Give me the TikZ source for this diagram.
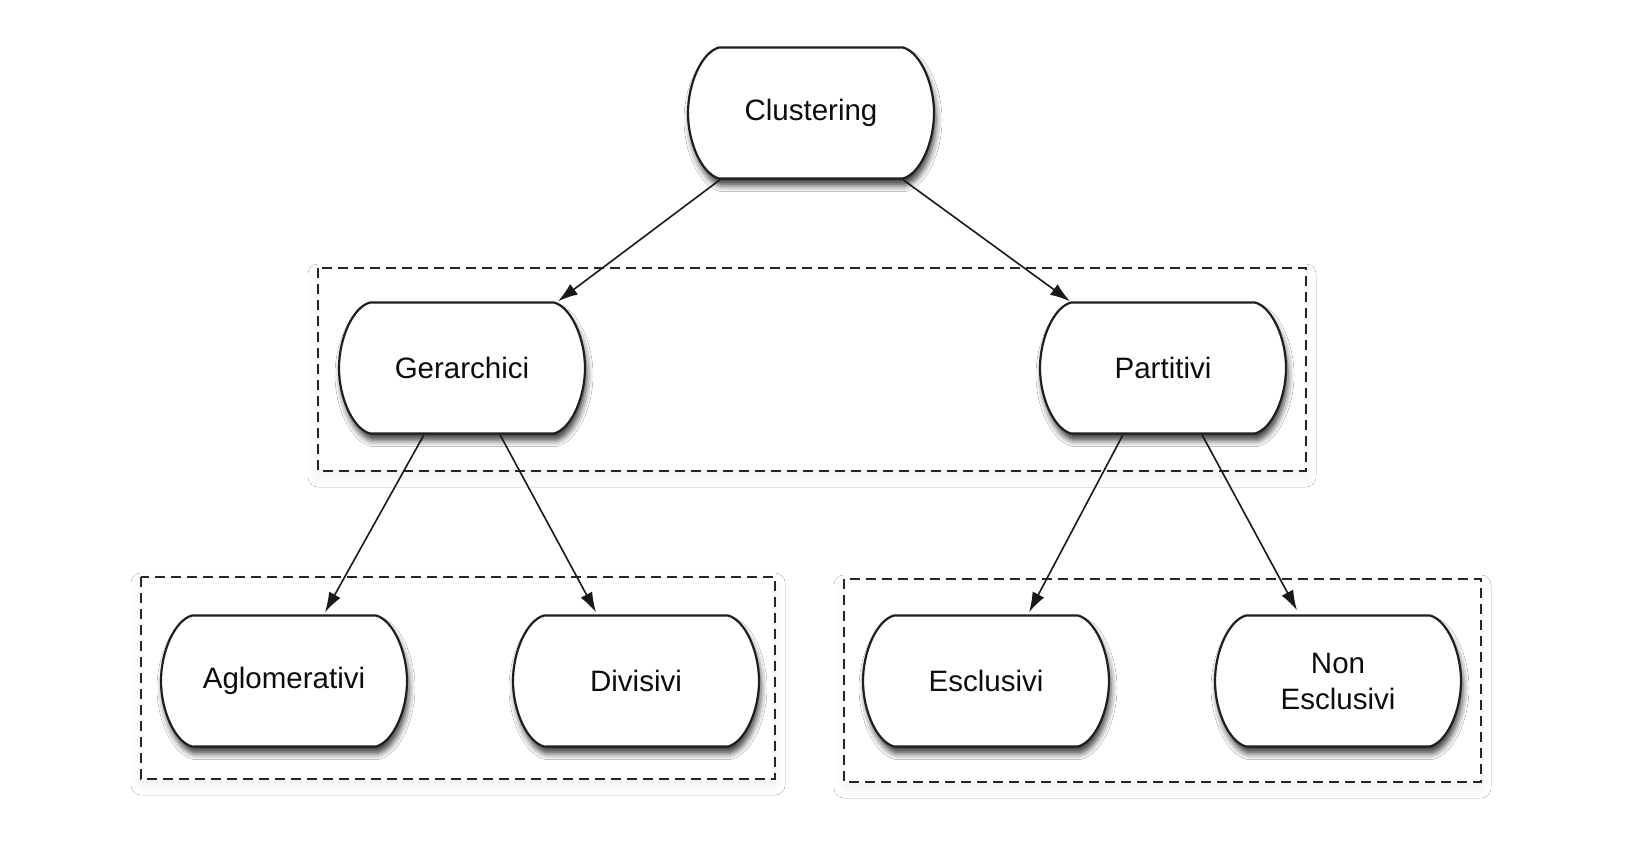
\documentclass[tikz,border=0pt]{standalone}
\usepackage{fontspec}
\setmainfont{Liberation Sans}
\usetikzlibrary{shadows.blur,arrows.meta,calc}
% outline of a pill shape centred on coordinate #1 (half width 123, half height 65.5)
\newcommand\pilloutline[1]{%
  \draw[pillline] ($(#1)+(-92,-65.5)$) -- ($(#1)+(92,-65.5)$)
    .. controls ($(#1)+(109,-61)$) and ($(#1)+(123,-30)$) .. ($(#1)+(123,0)$)
    .. controls ($(#1)+(123,30)$) and ($(#1)+(109,61)$) .. ($(#1)+(92,65.5)$)
    -- ($(#1)+(-92,65.5)$)
    .. controls ($(#1)+(-109,61)$) and ($(#1)+(-123,30)$) .. ($(#1)+(-123,0)$)
    .. controls ($(#1)+(-123,-30)$) and ($(#1)+(-109,-61)$) .. cycle;}
\begin{document}
\begin{tikzpicture}[x=1pt,y=-1pt,
  blk/.style={rectangle, draw=none, minimum width=246pt, minimum height=131pt,
    font=\fontsize{29.5}{36}\selectfont, text=black!95, align=center, inner sep=0pt},
  pillline/.style={draw=black!88, line width=2.2pt, fill=white,
    blur shadow={shadow xshift=2pt, shadow yshift=-7pt, shadow blur radius=6pt, shadow opacity=75}},
  grp/.style={draw=black!85, line width=1.8pt, dash pattern=on 10pt off 6pt, fill=white,
    blur shadow={shadow xshift=0pt, shadow yshift=-6pt, shadow blur radius=10pt, shadow opacity=6}},
  arr/.style={line width=1.6pt, draw=black!90, -{Latex[length=20pt,width=13pt]}}]
\useasboundingbox[fill=white] (0,0) rectangle (1652,841);
% group boxes
\draw[grp] (318,268) rectangle (1306,471);
\draw[grp] (141,577) rectangle (775,779);
\draw[grp] (844,579) rectangle (1481,782);
% centres
\coordinate (cluc) at (811,113);
\coordinate (gerc) at (462,368);
\coordinate (parc) at (1163,368);
\coordinate (aglc) at (284,681);
\coordinate (divc) at (636,681);
\coordinate (escc) at (986,681);
\coordinate (nesc) at (1338,681);
% outlines
\pilloutline{cluc}
\pilloutline{gerc}
\pilloutline{parc}
\pilloutline{aglc}
\pilloutline{divc}
\pilloutline{escc}
\pilloutline{nesc}
% nodes
\node[blk] (clu) at (cluc) {Clustering};
\node[blk] (ger) at (gerc) {Gerarchici};
\node[blk] (par) at (parc) {Partitivi};
\node[blk] (agl) at (aglc) {Aglomerativi};
\node[blk] (div) at (divc) {Divisivi};
\node[blk] (esc) at (escc) {Esclusivi};
\node[blk] (nes) at (nesc) {Non\\Esclusivi};
% connectors
\draw[arr] ($(clu.south)+(-91,1)$) -- ($(ger.north)+(96,-1)$);
\draw[arr] ($(clu.south)+(92,1)$) -- ($(par.north)+(-93,-1)$);
\draw[arr] ($(ger.south)+(-38,1)$) -- ($(agl.north)+(41,-3)$);
\draw[arr] ($(ger.south)+(38,1)$) -- ($(div.north)+(-40,-3)$);
\draw[arr] ($(par.south)+(-40,1)$) -- ($(esc.north)+(43,-3)$);
\draw[arr] ($(par.south)+(39,1)$) -- ($(nes.north)+(-41,-5)$);
\end{tikzpicture}
\end{document}
